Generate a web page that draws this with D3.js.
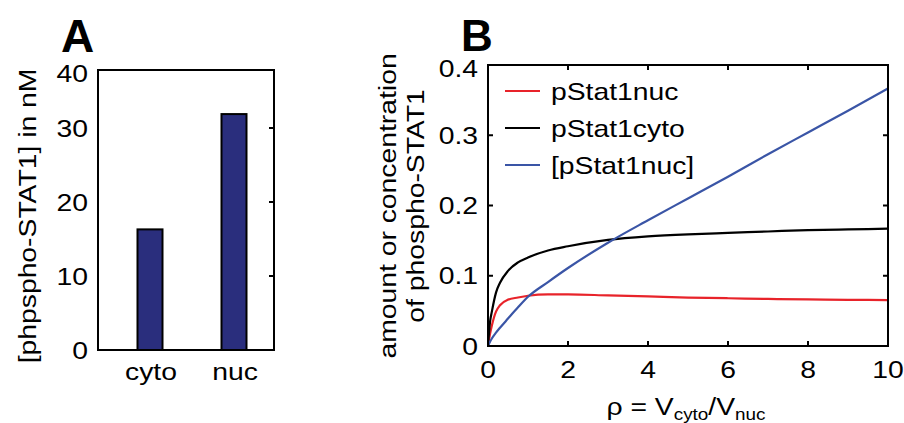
<!DOCTYPE html>
<html>
<head>
<meta charset="utf-8">
<script src="https://cdn.jsdelivr.net/npm/d3@7"></script>
<style>
  html, body { margin: 0; padding: 0; background: #fff; }
  svg { display: block; font-family: "Liberation Sans", Arial, Helvetica, sans-serif; }
</style>
</head>
<body>
<svg id="fig" width="904" height="423"></svg>
<script>
// Panel A: phospho-STAT1 concentration per compartment
const barCategories = ["cyto", "nuc"];
const barValues = [16.3, 32.4];
const barTicks = [0, 10, 20, 30, 40];

// Panel B: dependence on the volume ratio rho
const rhoValues = [0, 0.05, 0.1, 0.2, 0.3, 0.5, 0.75, 1, 1.5, 2, 3, 4, 5, 6, 7, 8, 9, 10];
const pStat1nuc = [0, 0.017, 0.030, 0.049, 0.058, 0.066, 0.069, 0.0715, 0.0735, 0.0735, 0.072, 0.0705, 0.069, 0.068, 0.067, 0.0663, 0.0658, 0.0653];
const pStat1cyto = [0, 0.034, 0.050, 0.076, 0.090, 0.107, 0.119, 0.126, 0.136, 0.142, 0.151, 0.156, 0.159, 0.161, 0.163, 0.165, 0.166, 0.167];
const pStat1nucConc = [0, 0.006, 0.011, 0.019, 0.026, 0.039, 0.055, 0.070, 0.091, 0.111, 0.147, 0.179, 0.210, 0.241, 0.273, 0.304, 0.335, 0.3667];
const seriesNames = ["pStat1nuc", "pStat1cyto", "[pStat1nuc]"];
const seriesColors = ["#e8232a", "#000000", "#3a55a6"];
const xTicksB = [0, 2, 4, 6, 8, 10];
const yTicksB = [0, 0.1, 0.2, 0.3, 0.4];

const svg = d3.select("#fig");
const FS = 24;
const SX = 1.18; // wide letterforms: stretch text along its reading direction

// place a text with its anchor at (x, y), optional rotation, and horizontal stretch
function put(sel, x, y, rot) {
  return sel.attr("transform", `translate(${x},${y}) rotate(${rot || 0}) scale(${SX},1)`);
}

/* ---------- Panel A ---------- */
const A = { left: 98, right: 274, top: 70, bottom: 350 };
const yA = d3.scaleLinear().domain([0, 30, 40]).range([A.bottom, 128, A.top]);
const xA = d3.scaleBand().domain(barCategories).range([108, 276]);
const barW = 25;

const gA = svg.append("g");
gA.selectAll("rect.bar")
  .data(barCategories)
  .join("rect")
  .attr("class", "bar")
  .attr("x", d => xA(d) + xA.bandwidth() / 2 - barW / 2)
  .attr("width", barW)
  .attr("y", (d, i) => yA(barValues[i]))
  .attr("height", (d, i) => A.bottom - yA(barValues[i]))
  .attr("fill", "#2a2e7d")
  .attr("stroke", "#000")
  .attr("stroke-width", 2);

// inward ticks on the right edge
gA.selectAll("line.rt")
  .data(barTicks.filter(t => t > 0 && t < 40))
  .join("line")
  .attr("x1", A.right).attr("x2", A.right - 5)
  .attr("y1", d => yA(d)).attr("y2", d => yA(d))
  .attr("stroke", "#000").attr("stroke-width", 2);

gA.append("rect")
  .attr("x", A.left).attr("y", A.top)
  .attr("width", A.right - A.left).attr("height", A.bottom - A.top)
  .attr("fill", "none").attr("stroke", "#000").attr("stroke-width", 2);

gA.selectAll("text.yt")
  .data(barTicks)
  .join("text")
  .each(function (d) { put(d3.select(this), 88, yA(d) + (d === 40 ? 3 : 0)); })
  .attr("dy", "0.36em")
  .attr("text-anchor", "end")
  .attr("font-size", FS)
  .text(d => d);

gA.selectAll("text.xt")
  .data(barCategories)
  .join("text")
  .each(function (d) { put(d3.select(this), xA(d) + xA.bandwidth() / 2 + 1, 380); })
  .attr("text-anchor", "middle")
  .attr("font-size", FS)
  .text(d => d);

put(gA.append("text"), 36, 216, -90)
  .attr("text-anchor", "middle")
  .attr("font-size", FS)
  .text("[phpspho-STAT1] in nM");

gA.append("text")
  .attr("x", 61).attr("y", 52)
  .attr("font-size", 46).attr("font-weight", "bold")
  .text("A");

/* ---------- Panel B ---------- */
const B = { left: 488, right: 888, top: 65, bottom: 346 };
const xB = d3.scaleLinear().domain([0, 10]).range([B.left, B.right]);
const yB = d3.scaleLinear().domain([0, 0.4]).range([B.bottom, B.top]);
const gB = svg.append("g");

const series = [pStat1nuc, pStat1cyto, pStat1nucConc];
const line = d3.line()
  .x((d, i) => xB(rhoValues[i]))
  .y(d => yB(d))
  .curve(d3.curveMonotoneX);

gB.append("clipPath").attr("id", "clipB").append("rect")
  .attr("x", B.left).attr("y", B.top).attr("width", B.right - B.left).attr("height", B.bottom - B.top);

gB.append("g").attr("clip-path", "url(#clipB)")
  .selectAll("path.series")
  .data(series)
  .join("path")
  .attr("class", "series")
  .attr("d", d => line(d))
  .attr("fill", "none")
  .attr("stroke", (d, i) => seriesColors[i])
  .attr("stroke-width", 2.2);

// inward ticks on all four sides
const tl = 5;
const ticksX = xTicksB.filter(t => t > 0 && t < 10);
const ticksY = yTicksB.filter(t => t > 0 && t < 0.4);
gB.selectAll("line.tb").data(ticksX).join("line")
  .attr("x1", d => xB(d)).attr("x2", d => xB(d))
  .attr("y1", B.bottom).attr("y2", B.bottom - tl)
  .attr("stroke", "#000").attr("stroke-width", 2);
gB.selectAll("line.tt").data(ticksX).join("line")
  .attr("x1", d => xB(d)).attr("x2", d => xB(d))
  .attr("y1", B.top).attr("y2", B.top + tl)
  .attr("stroke", "#000").attr("stroke-width", 2);
gB.selectAll("line.tl").data(ticksY).join("line")
  .attr("x1", B.left).attr("x2", B.left + tl)
  .attr("y1", d => yB(d)).attr("y2", d => yB(d))
  .attr("stroke", "#000").attr("stroke-width", 2);
gB.selectAll("line.tr").data(ticksY).join("line")
  .attr("x1", B.right).attr("x2", B.right - tl)
  .attr("y1", d => yB(d)).attr("y2", d => yB(d))
  .attr("stroke", "#000").attr("stroke-width", 2);

gB.append("rect")
  .attr("x", B.left).attr("y", B.top)
  .attr("width", B.right - B.left).attr("height", B.bottom - B.top)
  .attr("fill", "none").attr("stroke", "#000").attr("stroke-width", 2);

gB.selectAll("text.xt").data(xTicksB).join("text")
  .each(function (d) { put(d3.select(this), xB(d), 378); })
  .attr("text-anchor", "middle").attr("font-size", FS)
  .text(d => d);

gB.selectAll("text.yt").data(yTicksB).join("text")
  .each(function (d) { put(d3.select(this), 478, yB(d) + (d === 0.4 ? 3 : 0)); })
  .attr("dy", "0.36em")
  .attr("text-anchor", "end").attr("font-size", FS)
  .text(d => d === 0 ? "0" : d3.format(".1f")(d));

// legend
const legRows = [91, 128, 165];
const leg = gB.selectAll("g.leg").data(seriesNames).join("g").attr("class", "leg");
leg.append("line")
  .attr("x1", 505).attr("x2", 540)
  .attr("y1", (d, i) => legRows[i]).attr("y2", (d, i) => legRows[i])
  .attr("stroke", (d, i) => seriesColors[i]).attr("stroke-width", 2.2);
leg.append("text")
  .each(function (d, i) { put(d3.select(this), 551, legRows[i]); })
  .attr("dy", "0.36em").attr("font-size", FS)
  .text(d => d);

// axis titles
const yt = put(gB.append("text"), 396, 206, -90)
  .attr("text-anchor", "middle").attr("font-size", FS);
yt.append("tspan").attr("x", 0).attr("dy", 0).text("amount or concentration");
yt.append("tspan").attr("x", 0).attr("dy", 28).text("of phospho-STAT1");

const xt = put(gB.append("text"), 686, 415)
  .attr("text-anchor", "middle").attr("font-size", FS);
xt.append("tspan").text("ρ = V");
xt.append("tspan").attr("font-size", 16).attr("dy", 5).text("cyto");
xt.append("tspan").attr("dy", -5).text("/V");
xt.append("tspan").attr("font-size", 16).attr("dy", 5).text("nuc");

gB.append("text")
  .attr("x", 461).attr("y", 51)
  .attr("font-size", 44).attr("font-weight", "bold")
  .text("B");
</script>
</body>
</html>
